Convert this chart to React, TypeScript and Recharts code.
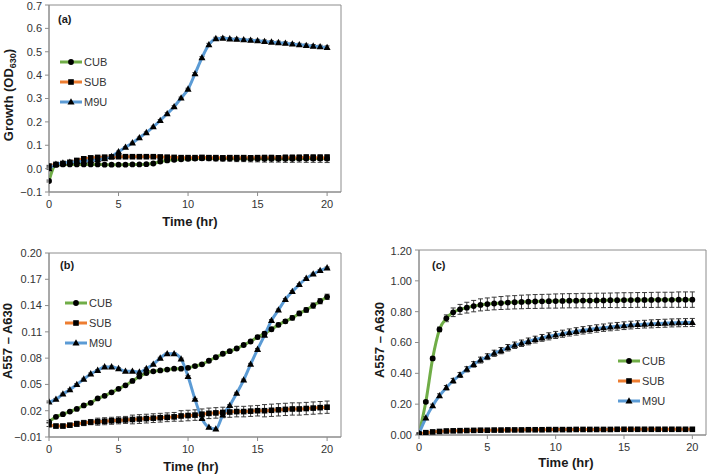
import React from "react";
import { LineChart, Line, XAxis, YAxis, ErrorBar, ReferenceArea } from "recharts";

const FONT = "'Liberation Sans', Arial, sans-serif";
const GREEN = "#70AD47";
const ORANGE = "#ED7D31";
const BLUE = "#5B9BD5";
const BAR = "#3a3a3a";

// time in hours, one reading every 30 min
const TIME = [
  0, 0.5, 1, 1.5, 2, 2.5, 3, 3.5, 4, 4.5,
  5, 5.5, 6, 6.5, 7, 7.5, 8, 8.5, 9, 9.5,
  10, 10.5, 11, 11.5, 12, 12.5, 13, 13.5, 14, 14.5,
  15, 15.5, 16, 16.5, 17, 17.5, 18, 18.5, 19, 19.5,
  20,
];
const X_TICKS = [0, 5, 10, 15, 20];

// (a) growth OD630
const A_CUB = [
  -0.053, 0.016, 0.018, 0.018, 0.018, 0.018, 0.018, 0.018, 0.017, 0.017,
  0.017, 0.017, 0.018, 0.018, 0.019, 0.022, 0.03, 0.035, 0.038, 0.04,
  0.042, 0.043, 0.044, 0.044, 0.043, 0.043, 0.043, 0.042, 0.042, 0.042,
  0.042, 0.042, 0.042, 0.042, 0.042, 0.042, 0.043, 0.043, 0.043, 0.043,
  0.043,
];
const A_CUB_ERR = [
  0.004, 0.003, 0.003, 0.003, 0.003, 0.003, 0.003, 0.003, 0.003, 0.003,
  0.003, 0.003, 0.003, 0.003, 0.004, 0.005, 0.006, 0.006, 0.007, 0.007,
  0.008, 0.008, 0.009, 0.01, 0.01, 0.011, 0.011, 0.012, 0.012, 0.013,
  0.013, 0.014, 0.014, 0.014, 0.015, 0.015, 0.015, 0.016, 0.016, 0.016,
  0.017,
];
const A_SUB = [
  0.011, 0.018, 0.022, 0.027, 0.035, 0.042, 0.046, 0.048, 0.049, 0.05,
  0.051, 0.051, 0.051, 0.051, 0.051, 0.051, 0.05, 0.049, 0.048, 0.047,
  0.047, 0.047, 0.048, 0.047, 0.047, 0.046, 0.047, 0.047, 0.047, 0.046,
  0.047, 0.047, 0.047, 0.046, 0.047, 0.047, 0.047, 0.048, 0.047, 0.047,
  0.047,
];
const A_SUB_ERR = [
  0.003, 0.003, 0.003, 0.003, 0.004, 0.004, 0.004, 0.004, 0.004, 0.004,
  0.004, 0.004, 0.004, 0.004, 0.004, 0.005, 0.005, 0.005, 0.005, 0.006,
  0.006, 0.006, 0.007, 0.007, 0.007, 0.008, 0.008, 0.008, 0.009, 0.009,
  0.009, 0.01, 0.01, 0.01, 0.011, 0.011, 0.011, 0.012, 0.012, 0.012,
  0.013,
];
const A_M9U = [
  0.0, 0.018, 0.024, 0.027, 0.03, 0.032, 0.035, 0.038, 0.042, 0.052,
  0.072, 0.091, 0.11, 0.132, 0.154, 0.179, 0.206, 0.235, 0.265, 0.302,
  0.34, 0.406, 0.474, 0.53, 0.556, 0.558, 0.555, 0.553, 0.551, 0.549,
  0.547, 0.544, 0.541, 0.539, 0.536, 0.533, 0.53, 0.527, 0.524, 0.521,
  0.518,
];
const A_M9U_ERR = [
  0.003, 0.003, 0.003, 0.003, 0.003, 0.003, 0.003, 0.003, 0.003, 0.003,
  0.003, 0.003, 0.003, 0.003, 0.003, 0.003, 0.004, 0.004, 0.004, 0.004,
  0.004, 0.005, 0.005, 0.006, 0.006, 0.006, 0.006, 0.006, 0.006, 0.006,
  0.006, 0.006, 0.006, 0.006, 0.006, 0.006, 0.006, 0.006, 0.007, 0.007,
  0.007,
];

// (b) A557 - A630
const B_CUB = [
  0.0075, 0.013, 0.016, 0.019, 0.022, 0.026, 0.029, 0.034, 0.037, 0.041,
  0.045, 0.049, 0.054, 0.059, 0.063, 0.065, 0.066, 0.067, 0.068, 0.068,
  0.069, 0.071, 0.073, 0.077, 0.081, 0.085, 0.088, 0.091, 0.095, 0.099,
  0.104, 0.108, 0.113, 0.118, 0.122, 0.126, 0.131, 0.135, 0.14, 0.145,
  0.15,
];
const B_CUB_ERR = [
  0.001, 0.001, 0.001, 0.001, 0.001, 0.001, 0.001, 0.001, 0.001, 0.001,
  0.001, 0.001, 0.001, 0.001, 0.001, 0.001, 0.001, 0.001, 0.001, 0.001,
  0.0015, 0.0015, 0.0015, 0.0015, 0.0015, 0.0015, 0.0015, 0.0015, 0.0015, 0.0015,
  0.002, 0.002, 0.002, 0.002, 0.002, 0.0025, 0.0025, 0.0025, 0.003, 0.003,
  0.003,
];
const B_SUB = [
  0.004, 0.0025, 0.0025, 0.0035, 0.005, 0.006, 0.007, 0.0075, 0.008, 0.0085,
  0.009, 0.0095, 0.01, 0.0105, 0.011, 0.0115, 0.012, 0.0125, 0.013, 0.014,
  0.0145, 0.015, 0.016, 0.017, 0.0175, 0.018, 0.0185, 0.019, 0.019, 0.0195,
  0.02, 0.02, 0.0205, 0.021, 0.0215, 0.022, 0.022, 0.0225, 0.023, 0.0235,
  0.024,
];
const B_SUB_ERR = [
  0.002, 0.002, 0.002, 0.002, 0.003, 0.003, 0.003, 0.004, 0.004, 0.004,
  0.004, 0.004, 0.005, 0.005, 0.005, 0.005, 0.005, 0.005, 0.005, 0.006,
  0.006, 0.006, 0.006, 0.006, 0.006, 0.006, 0.006, 0.006, 0.006, 0.006,
  0.006, 0.007, 0.007, 0.007, 0.007, 0.007, 0.007, 0.007, 0.007, 0.007,
  0.007,
];
const B_M9U = [
  0.03, 0.033, 0.039, 0.044, 0.05, 0.056, 0.062, 0.066, 0.07, 0.07,
  0.068, 0.065, 0.065, 0.064, 0.068, 0.073, 0.08, 0.085, 0.085, 0.079,
  0.059, 0.033, 0.011, 0.001, -0.001, 0.015, 0.026, 0.04, 0.055, 0.073,
  0.09, 0.106, 0.123, 0.135, 0.147, 0.156, 0.164, 0.171, 0.176, 0.18,
  0.183,
];
const B_M9U_ERR = [
  0.001, 0.001, 0.001, 0.001, 0.001, 0.001, 0.001, 0.001, 0.001, 0.001,
  0.001, 0.001, 0.001, 0.001, 0.001, 0.001, 0.001, 0.001, 0.001, 0.001,
  0.001, 0.001, 0.001, 0.001, 0.001, 0.001, 0.001, 0.001, 0.001, 0.001,
  0.001, 0.001, 0.001, 0.001, 0.001, 0.001, 0.001, 0.001, 0.001, 0.001,
  0.001,
];

// (c) A557 - A630
const C_CUB = [
  0.01, 0.215, 0.497, 0.685, 0.757, 0.796, 0.815, 0.826, 0.836, 0.844,
  0.849, 0.853, 0.856, 0.859, 0.861, 0.863, 0.865, 0.866, 0.867, 0.868,
  0.869, 0.87, 0.871, 0.871, 0.872, 0.872, 0.873, 0.873, 0.874, 0.874,
  0.875, 0.875, 0.876, 0.876, 0.876, 0.877, 0.877, 0.877, 0.878, 0.878,
  0.878,
];
const C_CUB_ERR = [
  0.004, 0.008, 0.01, 0.015, 0.022, 0.028, 0.032, 0.035, 0.037, 0.039,
  0.04, 0.041, 0.042, 0.043, 0.043, 0.044, 0.044, 0.045, 0.045, 0.045,
  0.046, 0.046, 0.046, 0.046, 0.047, 0.047, 0.047, 0.047, 0.047, 0.048,
  0.048, 0.048, 0.048, 0.048, 0.049, 0.049, 0.049, 0.049, 0.05, 0.05,
  0.05,
];
const C_SUB = [
  0.006, 0.015, 0.02, 0.023, 0.026, 0.027, 0.028, 0.029, 0.03, 0.031,
  0.031, 0.032, 0.032, 0.033, 0.033, 0.033, 0.034, 0.034, 0.034, 0.035,
  0.035, 0.035, 0.035, 0.036, 0.036, 0.036, 0.036, 0.036, 0.036, 0.037,
  0.037, 0.037, 0.037, 0.037, 0.037, 0.037, 0.037, 0.037, 0.037, 0.037,
  0.037,
];
const C_SUB_ERR = [
  0.002, 0.002, 0.002, 0.002, 0.002, 0.002, 0.002, 0.002, 0.002, 0.002,
  0.002, 0.002, 0.002, 0.002, 0.002, 0.002, 0.002, 0.002, 0.002, 0.002,
  0.002, 0.002, 0.002, 0.002, 0.002, 0.002, 0.002, 0.002, 0.002, 0.002,
  0.002, 0.002, 0.002, 0.002, 0.002, 0.002, 0.002, 0.002, 0.002, 0.002,
  0.002,
];
const C_M9U = [
  0.01, 0.11, 0.19, 0.255, 0.307, 0.352, 0.389, 0.426, 0.458, 0.486,
  0.508, 0.53, 0.547, 0.566, 0.582, 0.595, 0.607, 0.619, 0.63, 0.64,
  0.649, 0.657, 0.665, 0.672, 0.679, 0.685, 0.691, 0.696, 0.701, 0.705,
  0.709, 0.713, 0.716, 0.719, 0.721, 0.723, 0.725, 0.727, 0.728, 0.729,
  0.73,
];
const C_M9U_ERR = [
  0.004, 0.008, 0.01, 0.012, 0.014, 0.015, 0.016, 0.017, 0.018, 0.019,
  0.019, 0.02, 0.02, 0.021, 0.021, 0.021, 0.022, 0.022, 0.022, 0.023,
  0.023, 0.023, 0.023, 0.024, 0.024, 0.024, 0.024, 0.024, 0.025, 0.025,
  0.025, 0.025, 0.025, 0.025, 0.026, 0.026, 0.026, 0.026, 0.026, 0.026,
  0.026,
];

const A_TICKS = [-0.1, 0, 0.1, 0.2, 0.3, 0.4, 0.5, 0.6, 0.7];
const B_TICKS = [-0.01, 0.02, 0.05, 0.08, 0.11, 0.14, 0.17, 0.2];
const C_TICKS = [0, 0.2, 0.4, 0.6, 0.8, 1.0, 1.2];

type Row = { t: number; cub: number; cubErr: number; sub: number; subErr: number; m9u: number; m9uErr: number };

const makeRows = (cub: number[], cubErr: number[], sub: number[], subErr: number[], m9u: number[], m9uErr: number[]): Row[] =>
  TIME.map((t, i) => ({ t, cub: cub[i], cubErr: cubErr[i], sub: sub[i], subErr: subErr[i], m9u: m9u[i], m9uErr: m9uErr[i] }));

const circle = (cx: number, cy: number, key?: string) => <circle key={key} cx={cx} cy={cy} r={2.9} fill="#000" />;
const square = (cx: number, cy: number, key?: string) => <rect key={key} x={cx - 2.8} y={cy - 2.8} width={5.6} height={5.6} fill="#000" />;
const triangle = (cx: number, cy: number, key?: string) => (
  <polygon key={key} points={`${cx},${cy - 3.8} ${cx - 3.5},${cy + 2.5} ${cx + 3.5},${cy + 2.5}`} fill="#000" />
);

const SERIES = [
  { key: "cub", err: "cubErr", name: "CUB", color: GREEN, mark: circle },
  { key: "sub", err: "subErr", name: "SUB", color: ORANGE, mark: square },
  { key: "m9u", err: "m9uErr", name: "M9U", color: BLUE, mark: triangle },
];

const fmt = (digits: number) => (v: number) => v.toFixed(digits).replace("-", "\u2212");

type PanelProps = {
  left: number;
  top: number;
  width: number;
  height: number;
  margin: { top: number; right: number; bottom: number; left: number };
  yWidth: number;
  xHeight: number;
  yDomain: [number, number];
  yTicks: number[];
  digits: number;
  data: Row[];
  tag: string;
  tagX: number;
  tagY: number;
  yTitle: React.ReactNode;
  yTitleX: number;
  yTitleY: number;
  xTitleX: number;
  xTitleY: number;
  legendX: number;
  legendY: number;
  legendGap: number;
};

const Panel = (p: PanelProps) => {
  const tickStyle = { fontSize: 11, fill: "#333333", fontFamily: FONT };
  return (
    <div style={{ position: "absolute", left: p.left, top: p.top, width: p.width, height: p.height }}>
      <LineChart width={p.width} height={p.height} data={p.data} margin={p.margin}>
        <ReferenceArea x1={0} x2={21} y1={p.yDomain[0]} y2={p.yDomain[1]} fill="none" stroke="#8c8c8c" strokeWidth={1} ifOverflow="visible" />
        <XAxis
          dataKey="t"
          type="number"
          domain={[0, 21]}
          ticks={X_TICKS}
          allowDataOverflow
          height={p.xHeight}
          tickSize={4}
          tickMargin={4}
          tick={tickStyle}
          stroke="#8c8c8c"
        />
        <YAxis
          type="number"
          domain={p.yDomain}
          ticks={p.yTicks}
          allowDataOverflow
          width={p.yWidth}
          tickSize={4}
          tickMargin={3}
          tick={tickStyle}
          tickFormatter={fmt(p.digits)}
          stroke="#8c8c8c"
        />
        {SERIES.map((s) => (
          <Line
            key={s.key}
            dataKey={s.key}
            type="monotone"
            stroke={s.color}
            strokeWidth={3}
            isAnimationActive={false}
            activeDot={false}
            dot={(d: any) => (d.cx == null ? <g key={`${s.key}-${d.index}`} /> : s.mark(d.cx, d.cy, `${s.key}-${d.index}`))}
          >
            <ErrorBar dataKey={s.err} direction="y" width={2.5} strokeWidth={1} stroke={BAR} isAnimationActive={false} />
          </Line>
        ))}
      </LineChart>
      <svg width={p.width} height={p.height} style={{ position: "absolute", left: 0, top: 0, pointerEvents: "none" }} fontFamily={FONT}>
        <text x={p.tagX} y={p.tagY} fontSize={11} fontWeight="bold" fill="#1a1a1a">{p.tag}</text>
        <text
          x={p.yTitleX}
          y={p.yTitleY}
          transform={`rotate(-90 ${p.yTitleX} ${p.yTitleY})`}
          textAnchor="middle"
          fontSize={13}
          fontWeight="bold"
          fill="#1a1a1a"
        >
          {p.yTitle}
        </text>
        <text x={p.xTitleX} y={p.xTitleY} textAnchor="middle" fontSize={13} fontWeight="bold" fill="#1a1a1a">Time (hr)</text>
        {SERIES.map((s, i) => {
          const y = p.legendY + i * p.legendGap;
          const x0 = p.legendX;
          const x1 = p.legendX + 22;
          return (
            <g key={s.key}>
              <line x1={x0} y1={y} x2={x1} y2={y} stroke={s.color} strokeWidth={3} />
              {s.mark((x0 + x1) / 2, y)}
              <text x={x1 + 2} y={y + 4} fontSize={11} fill="#333333">{s.name}</text>
            </g>
          );
        })}
      </svg>
    </div>
  );
};

const dataA = makeRows(A_CUB, A_CUB_ERR, A_SUB, A_SUB_ERR, A_M9U, A_M9U_ERR);
const dataB = makeRows(B_CUB, B_CUB_ERR, B_SUB, B_SUB_ERR, B_M9U, B_M9U_ERR);
const dataC = makeRows(C_CUB, C_CUB_ERR, C_SUB, C_SUB_ERR, C_M9U, C_M9U_ERR);

export default function App() {
  return (
    <div style={{ position: "absolute", left: 0, top: 0, width: 709, height: 476, background: "#fff", overflow: "hidden" }}>
      <Panel
        left={0} top={0} width={350} height={236}
        margin={{ top: 5, right: 9, bottom: 0, left: 0 }}
        yWidth={49} xHeight={44}
        yDomain={[-0.1, 0.7]} yTicks={A_TICKS} digits={1}
        data={dataA}
        tag="(a)" tagX={58} tagY={23}
        yTitle={<>Growth (OD<tspan fontSize={9} dy={3}>630</tspan><tspan dy={-3}>)</tspan></>}
        yTitleX={13} yTitleY={95}
        xTitleX={190} xTitleY={226}
        legendX={60} legendY={62} legendGap={20}
      />
      <Panel
        left={0} top={245} width={350} height={231}
        margin={{ top: 8, right: 9, bottom: 0, left: 0 }}
        yWidth={49} xHeight={39}
        yDomain={[-0.01, 0.2]} yTicks={B_TICKS} digits={2}
        data={dataB}
        tag="(b)" tagX={60} tagY={24}
        yTitle="A557 – A630"
        yTitleX={12} yTitleY={96}
        xTitleX={191} xTitleY={226}
        legendX={65} legendY={58} legendGap={20}
      />
      <Panel
        left={360} top={245} width={349} height={231}
        margin={{ top: 5, right: 3, bottom: 0, left: 0 }}
        yWidth={59} xHeight={41}
        yDomain={[0, 1.2]} yTicks={C_TICKS} digits={2}
        data={dataC}
        tag="(c)" tagX={72} tagY={24}
        yTitle="A557 – A630"
        yTitleX={24} yTitleY={95}
        xTitleX={206} xTitleY={222}
        legendX={258} legendY={116} legendGap={20}
      />
    </div>
  );
}
